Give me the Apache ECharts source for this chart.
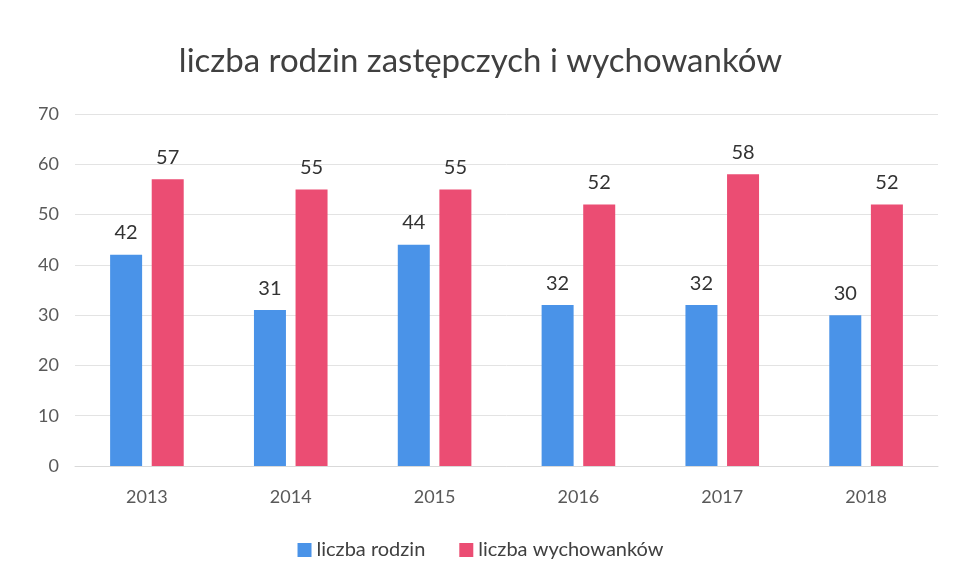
<!DOCTYPE html>
<html>
<head>
<meta charset="utf-8">
<script src="https://cdn.jsdelivr.net/npm/echarts@6/dist/echarts.min.js"></script>
<style>
  html, body { margin: 0; padding: 0; background: #fff; }
  #chart { width: 961px; height: 583px; }
</style>
</head>
<body>
<div id="chart"></div>
<script>
// lata
var years = ['2013', '2014', '2015', '2016', '2017', '2018'];
// liczba rodzin
var rodziny = [42, 31, 44, 32, 32, 30];
// liczba wychowanków
var wychowankowie = [57, 55, 55, 52, 58, 52];

var seriesNames = ['liczba rodzin', 'liczba wychowanków'];
var font = 'Lato, "Open Sans", sans-serif';

var myChart = echarts.init(document.getElementById('chart'));

var option = {
    backgroundColor: '#fff',
    textStyle: { fontFamily: font },
    title: {
        text: 'liczba rodzin zastępczych i wychowanków',
        left: 'center',
        top: 40,
        textStyle: { fontFamily: font, fontSize: 33, fontWeight: 'normal', color: '#404040' }
    },
    legend: {
        data: seriesNames,
        bottom: 18,
        left: 'center',
        itemWidth: 14,
        itemHeight: 14,
        itemGap: 34,
        icon: 'rect',
        textStyle: { fontFamily: font, fontSize: 20, color: '#404040' }
    },
    grid: {
        left: 75,
        right: 23,
        top: 114,
        bottom: 117
    },
    xAxis: {
        type: 'category',
        data: years,
        axisLine: { lineStyle: { color: '#d9d9d9' } },
        axisTick: { show: false },
        axisLabel: { fontFamily: font, fontSize: 18, color: '#595959', margin: 22 }
    },
    yAxis: {
        type: 'value',
        min: 0,
        max: 70,
        interval: 10,
        axisLine: { show: false },
        axisTick: { show: false },
        splitLine: { lineStyle: { color: '#e3e3e3' } },
        axisLabel: { fontFamily: font, fontSize: 18, color: '#595959', margin: 16 }
    },
    series: [
        {
            name: seriesNames[0],
            type: 'bar',
            data: rodziny,
            barWidth: 32,
            barGap: '30%',
            itemStyle: { color: '#4a93e8' },
            label: { show: true, position: 'top', distance: 12, fontFamily: font, fontSize: 20, color: '#333' }
        },
        {
            name: seriesNames[1],
            type: 'bar',
            data: wychowankowie,
            barWidth: 32,
            itemStyle: { color: '#eb4d73' },
            label: { show: true, position: 'top', distance: 12, fontFamily: font, fontSize: 20, color: '#333' }
        }
    ]
};

myChart.setOption(option);
</script>
</body>
</html>
